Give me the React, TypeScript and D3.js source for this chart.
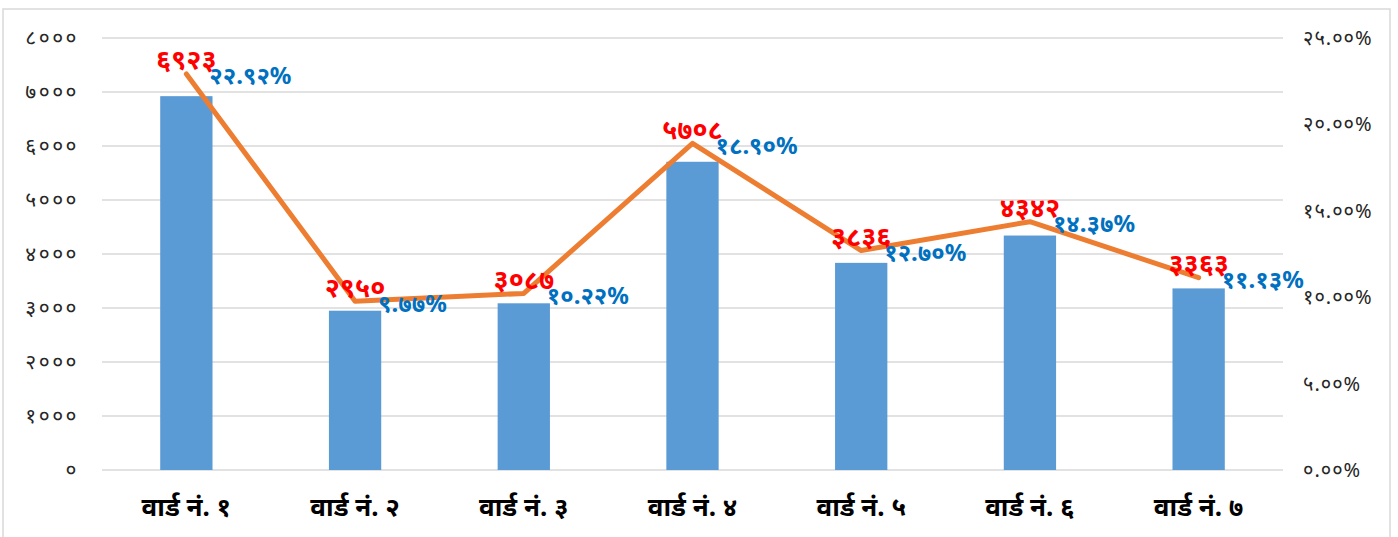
import React, { useEffect, useRef } from "react";
import * as d3 from "d3";

const wards = [
  "वार्ड नं. १",
  "वार्ड नं. २",
  "वार्ड नं. ३",
  "वार्ड नं. ४",
  "वार्ड नं. ५",
  "वार्ड नं. ६",
  "वार्ड नं. ७",
];
const population = [6923, 2950, 3087, 5708, 3836, 4342, 3363];
const percent = [22.92, 9.77, 10.22, 18.9, 12.7, 14.37, 11.13];
const leftTicks = [0, 1000, 2000, 3000, 4000, 5000, 6000, 7000, 8000];
const rightTicks = [0, 5, 10, 15, 20, 25];

// western digits -> devanagari digits
const dev = (s: string) => s.replace(/[0-9]/g, (d) => String.fromCharCode(0x0966 + +d));

const W = 1398;
const H = 537;
const margin = { top: 38, bottom: 67, left: 102, right: 115 };
const FONT = "'Noto Sans', 'DejaVu Sans', sans-serif";

function App() {
  const chartRef = useRef(null);

  useEffect(() => {
    const svg = d3.select(chartRef.current);
    svg.selectAll("*").remove();

    const x = d3
      .scaleBand()
      .domain(wards)
      .range([margin.left, W - margin.right])
      .paddingInner(0.69)
      .paddingOuter(0.345);

    const y = d3.scaleLinear().domain([0, 8000]).range([H - margin.bottom, margin.top]);
    const y2 = d3.scaleLinear().domain([0, 25]).range([H - margin.bottom, margin.top]);
    const cx = (d: string) => (x(d) as number) + x.bandwidth() / 2;

    // chart border
    svg
      .append("rect")
      .attr("x", 3)
      .attr("y", 9)
      .attr("width", 1387)
      .attr("height", H)
      .attr("fill", "#fff")
      .attr("stroke", "#d9d9d9")
      .attr("stroke-width", 1.5);

    // gridlines
    svg
      .append("g")
      .selectAll("line")
      .data(leftTicks)
      .enter()
      .append("line")
      .attr("x1", margin.left)
      .attr("x2", W - margin.right)
      .attr("y1", (d) => y(d))
      .attr("y2", (d) => y(d))
      .attr("stroke", "#d9d9d9")
      .attr("stroke-width", 1.5);

    // left axis labels
    svg
      .append("g")
      .selectAll("text")
      .data(leftTicks)
      .enter()
      .append("text")
      .attr("x", 79)
      .attr("y", (d) => y(d))
      .attr("dy", "0.35em")
      .attr("text-anchor", "end")
      .attr("font-size", 21)
      .attr("letter-spacing", 2.5)
      .attr("font-family", FONT)
      .attr("fill", "#262626")
      .text((d) => dev(String(d)));

    // right axis labels
    svg
      .append("g")
      .selectAll("text")
      .data(rightTicks)
      .enter()
      .append("text")
      .attr("x", 1303)
      .attr("y", (d) => y2(d))
      .attr("dy", "0.35em")
      .attr("text-anchor", "start")
      .attr("font-size", 20)
      .attr("letter-spacing", 1)
      .attr("font-family", FONT)
      .attr("fill", "#262626")
      .text((d) => dev(d.toFixed(2)) + "%");

    // x labels
    svg
      .append("g")
      .selectAll("text")
      .data(wards)
      .enter()
      .append("text")
      .attr("x", (d) => cx(d))
      .attr("y", 516)
      .attr("text-anchor", "middle")
      .attr("font-size", 26)
      .attr("font-weight", "bold")
      .attr("font-family", FONT)
      .attr("fill", "#000")
      .text((d) => d);

    // bars
    svg
      .append("g")
      .attr("fill", "#5b9bd5")
      .selectAll("rect")
      .data(population)
      .enter()
      .append("rect")
      .attr("x", (d, i) => x(wards[i]) as number)
      .attr("y", (d) => y(d))
      .attr("width", x.bandwidth())
      .attr("height", (d) => y(0) - y(d));

    // line
    const line = d3
      .line<number>()
      .x((d, i) => cx(wards[i]))
      .y((d) => y2(d));

    svg
      .append("path")
      .datum(percent)
      .attr("d", line)
      .attr("fill", "none")
      .attr("stroke", "#ed7d31")
      .attr("stroke-width", 5)
      .attr("stroke-linejoin", "round")
      .attr("stroke-linecap", "round");

    // red value labels
    svg
      .append("g")
      .selectAll("text")
      .data(population)
      .enter()
      .append("text")
      .attr("x", (d, i) => cx(wards[i]))
      .attr("y", (d, i) => y2(percent[i]) - 14)
      .attr("dy", "0.35em")
      .attr("text-anchor", "middle")
      .attr("font-size", 27)
      .attr("font-weight", "bold")
      .attr("font-family", FONT)
      .attr("fill", "#ff0000")
      .text((d) => dev(String(d)));

    // blue percent labels
    svg
      .append("g")
      .selectAll("text")
      .data(percent)
      .enter()
      .append("text")
      .attr("x", (d, i) => cx(wards[i]) + 23)
      .attr("y", (d) => y2(d) + 2)
      .attr("dy", "0.35em")
      .attr("text-anchor", "start")
      .attr("font-size", 24)
      .attr("font-weight", "bold")
      .attr("font-family", FONT)
      .attr("fill", "#0070c0")
      .text((d) => dev(d.toFixed(2)) + "%");
  }, []);

  return (
    <svg
      ref={chartRef}
      width={W}
      height={H}
      style={{ position: "absolute", left: 0, top: 0, background: "#fff" }}
    />
  );
}

export default App;
